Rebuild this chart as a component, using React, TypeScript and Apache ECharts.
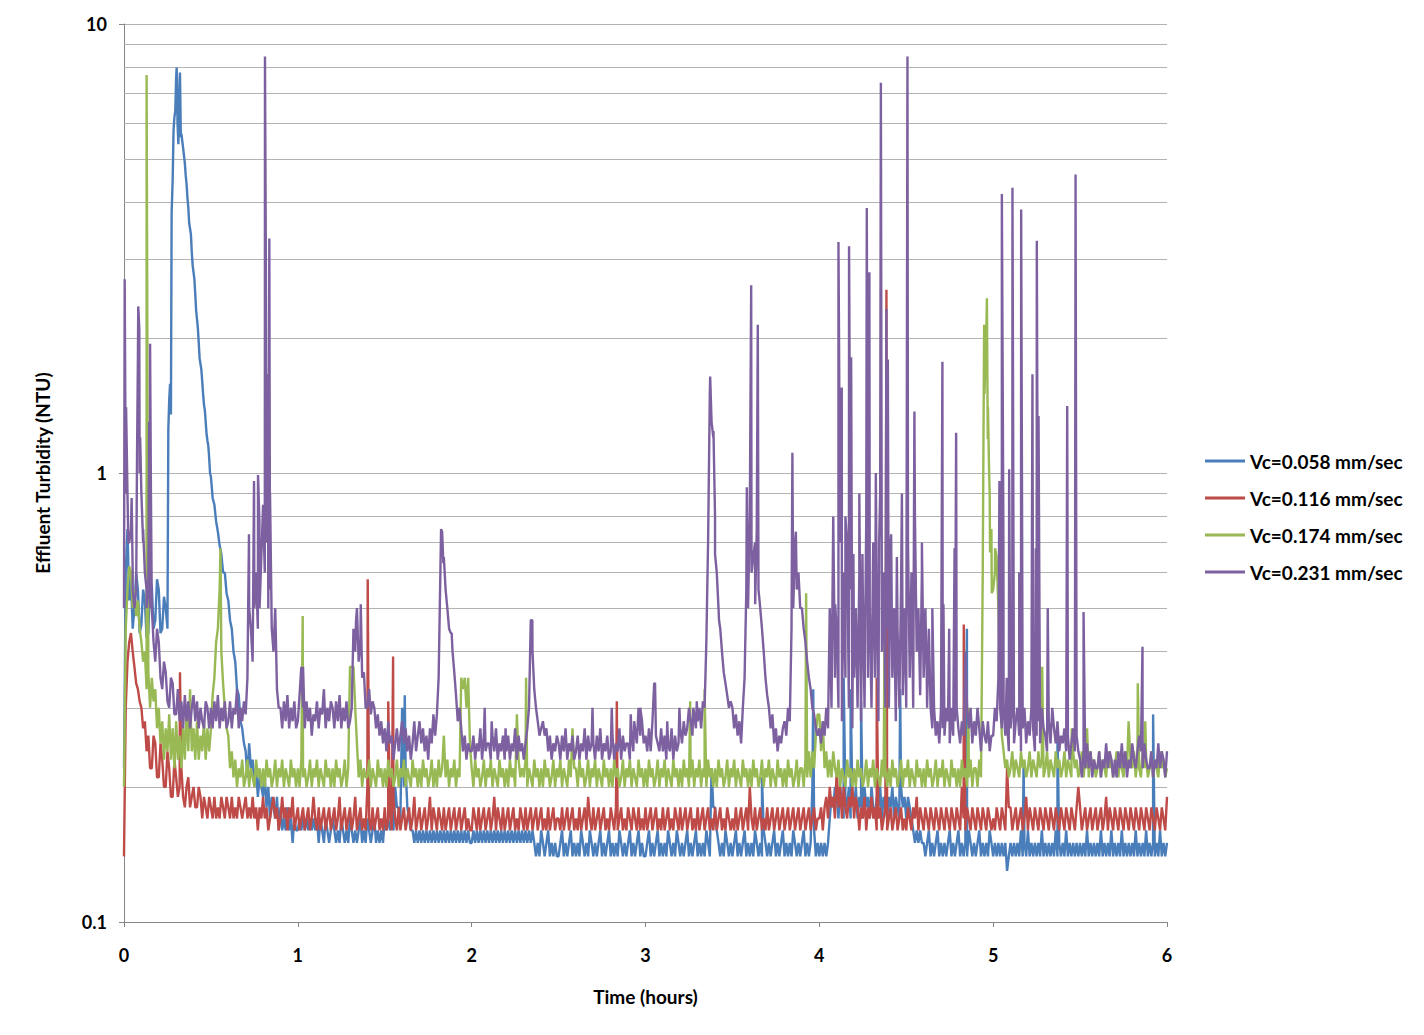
import React, { useEffect, useRef } from "react";
import * as echarts from "echarts";

// ---------- data ----------
const STEP = 0.01; // hours between baseline samples
const ROW_SPAN = 0.5; // each row holds 50 samples = 0.5 h
const X_MAX = 6;

const SERIES_NAMES = ["Vc=0.058 mm/sec", "Vc=0.116 mm/sec", "Vc=0.174 mm/sec", "Vc=0.231 mm/sec"];
const COLORS = ["#4A7EBB", "#BE4B48", "#98B954", "#7D60A0"];
const MINOR_Y = [0.2, 0.3, 0.4, 0.5, 0.6, 0.7, 0.8, 0.9, 2, 3, 4, 5, 6, 7, 8, 9];

// Vc = 0.058 mm/sec
const blueRows = [
  [.22, .6, .75, .52, .58, .45, .5, .6, .55, .44, .46, .55, .52, .43, .44, .57, .56, .45, .47, .58, .55, .44, .45, .53, .5, .45, 1.45, 1.35, 4.5, 6.2, 7.6, 6.0, 7.5, 5.7, 5.3, 4.9, 4.4, 3.9, 3.5, 3.1, 2.8, 2.5, 2.2, 1.95, 1.75, 1.6, 1.42, 1.3, 1.18, 1.08],
  [.98, .88, .85, .78, .74, .69, .66, .6, .6, .54, .52, .47, .45, .4, .38, .33, .32, .28, .27, .25, .24, .21, .25, .22, .23, .2, .22, .19, .21, .2, .19, .21, .18, .2, .17, .19, .18, .17, .19, .16, .18, .16, .17, .16, .18, .16, .17, .15, .17, .16],
  [.16, .17, .16, .17, .16, .17, .16, .17, .16, .17, .16, .17, .15, .17, .16, .15, .17, .16, .15, .16, .17, .16, .15, .16, .15, .17, .16, .15, .16, .15, .17, .16, .15, .16, .15, .16, .17, .15, .16, .15, .17, .16, .15, .16, .17, .15, .16, .15, .16, .15],
  [.17, .16, .17, .16, .17, .16, .2, .18, .18, .17, .3, .2, .22, .18, .17, .16, .16, .15, .16, .15, .16, .15, .16, .15, .16, .15, .16, .15, .16, .15, .16, .15, .16, .15, .16, .15, .16, .15, .16, .15, .16, .15, .16, .15, .16, .15, .16, .15, .16, .15],
  [.15, .16, .15, .16, .15, .16, .15, .16, .15, .16, .15, .16, .15, .16, .15, .16, .15, .16, .15, .16, .15, .16, .15, .16, .15, .16, .15, .16, .15, .16, .15, .16, .15, .16, .15, .16, .15, .14, .15, .14, .16, .15, .14, .15, .16, .14, .15, .14, .15, .14],
  [.14, .15, .16, .14, .15, .14, .15, .16, .14, .15, .14, .15, .14, .16, .15, .14, .15, .14, .16, .15, .14, .15, .14, .15, .16, .14, .15, .14, .15, .16, .14, .15, .14, .15, .14, .16, .15, .14, .15, .14, .15, .16, .14, .15, .14, .15, .16, .14, .15, .14],
  [.14, .15, .16, .14, .15, .14, .15, .16, .14, .15, .14, .15, .14, .16, .15, .14, .15, .14, .16, .15, .14, .15, .14, .15, .16, .14, .15, .14, .15, .16, .14, .15, .14, .15, .14, .16, .15, .14, .22, .18, .18, .16, .15, .14, .15, .14, .16, .15, .14, .15],
  [.14, .15, .16, .14, .15, .14, .15, .16, .14, .15, .14, .15, .14, .16, .15, .14, .15, .14, .16, .15, .14, .15, .14, .15, .16, .14, .15, .14, .15, .16, .14, .15, .14, .15, .14, .16, .15, .14, .15, .14, .15, .16, .14, .15, .14, .15, .2, .16, .14, .15],
  [.14, .15, .14, .15, .14, .15, .17, .19, .18, .2, .19, .17, .2, .18, .17, .19, .18, .2, .17, .19, .18, .2, .17, .19, .18, .17, .2, .18, .19, .17, .2, .18, .17, .19, .18, .2, .17, .19, .18, .17, .19, .18, .2, .17, .19, .18, .17, .2, .18, .19],
  [.17, .19, .18, .17, .16, .15, .16, .15, .16, .15, .15, .14, .15, .16, .14, .15, .14, .15, .16, .14, .15, .14, .15, .14, .15, .16, .14, .15, .14, .15, .16, .14, .15, .14, .15, .14, .16, .15, .14, .15, .14, .15, .16, .14, .15, .14, .15, .14, .16, .15],
  [.14, .15, .14, .15, .14, .15, .14, .15, .13, .14, .15, .14, .15, .14, .15, .14, .16, .14, .15, .14, .16, .14, .15, .14, .15, .14, .15, .14, .16, .14, .15, .14, .15, .14, .15, .14, .16, .14, .15, .14, .15, .14, .16, .14, .15, .14, .15, .14, .15, .14],
  [.15, .14, .15, .14, .16, .14, .15, .14, .15, .14, .15, .14, .16, .14, .15, .14, .15, .14, .16, .14, .15, .14, .15, .14, .16, .14, .15, .14, .15, .14, .15, .14, .16, .14, .15, .14, .15, .14, .16, .14, .15, .14, .15, .14, .15, .14, .16, .14, .15, .14],
];
const blueEnd = 0.15;
const blueExtra = [
  [.255, 1.25], [.265, 1.58], [.274, 3.8], [.285, 5.8], [.295, 6.4], [.303, 8.0], [.308, 6.0], [.313, 5.4],
  [.317, 6.6], [.322, 7.8], [.327, 5.6], [.345, 5.1], [.355, 4.6], [.365, 4.1], [.375, 3.6], [.385, 3.4],
  [.395, 2.9], [.405, 2.7], [.415, 2.3], [.425, 2.1], [.435, 1.8], [.445, 1.7], [.455, 1.5], [.465, 1.38],
  [.475, 1.22], [.485, 1.15], [.495, 1.0],
  [1.615, .32], [3.67, .21], [3.965, .33], [4.14, .35], [4.18, .33], [4.24, .31], [4.465, .33],
  [4.849, .45], [5.175, .226], [5.37, .26], [5.92, .29],
];

// Vc = 0.116 mm/sec
const redRows = [
  [.14, .3, .38, .42, .44, .4, .37, .34, .33, .31, .3, .27, .28, .24, .26, .22, .22, .26, .25, .21, .21, .25, .23, .2, .2, .24, .22, .19, .19, .23, .21, .19, .2, .22, .19, .18, .2, .21, .18, .19, .2, .18, .18, .2, .19, .17, .19, .18, .17, .19],
  [.18, .17, .19, .17, .18, .17, .19, .18, .17, .19, .18, .17, .19, .17, .18, .17, .19, .18, .17, .18, .19, .17, .18, .17, .19, .17, .18, .16, .18, .17, .19, .17, .18, .16, .17, .18, .19, .17, .18, .16, .17, .19, .17, .18, .16, .18, .17, .19, .16, .17],
  [.18, .16, .17, .18, .16, .17, .18, .16, .17, .19, .17, .16, .18, .16, .17, .18, .16, .17, .18, .16, .17, .18, .16, .17, .19, .16, .17, .18, .16, .17, .18, .16, .17, .19, .16, .17, .18, .16, .17, .16, .2, .17, .16, .18, .16, .17, .18, .16, .17, .16],
  [.18, .16, .17, .18, .16, .19, .17, .16, .18, .16, .17, .18, .16, .17, .18, .16, .17, .19, .16, .17, .18, .16, .17, .18, .16, .17, .19, .16, .18, .17, .16, .18, .17, .16, .18, .16, .17, .18, .16, .17, .18, .16, .17, .18, .16, .17, .18, .16, .17, .16],
  [.16, .18, .17, .16, .18, .16, .17, .18, .16, .17, .18, .16, .17, .19, .16, .18, .17, .16, .18, .16, .17, .18, .16, .17, .18, .16, .17, .16, .18, .17, .16, .18, .16, .17, .18, .16, .17, .18, .16, .17, .18, .16, .17, .16, .18, .16, .17, .18, .16, .17],
  [.17, .16, .18, .16, .17, .18, .16, .17, .18, .16, .17, .16, .18, .16, .17, .18, .16, .19, .17, .16, .18, .16, .17, .18, .16, .17, .18, .16, .17, .16, .18, .17, .16, .18, .16, .17, .18, .16, .17, .16, .18, .17, .16, .18, .17, .16, .18, .16, .17, .16],
  [.18, .16, .17, .18, .16, .17, .18, .16, .17, .16, .18, .16, .17, .18, .16, .17, .16, .18, .17, .16, .18, .16, .17, .18, .16, .17, .18, .16, .17, .16, .18, .16, .17, .18, .16, .17, .18, .16, .17, .16, .18, .16, .17, .18, .16, .17, .16, .18, .17, .16],
  [.17, .16, .18, .16, .17, .18, .16, .17, .18, .16, .2, .17, .16, .18, .16, .17, .18, .16, .17, .16, .18, .16, .17, .18, .16, .17, .18, .16, .17, .18, .16, .17, .18, .16, .17, .18, .16, .17, .18, .16, .17, .18, .16, .17, .18, .16, .17, .18, .16, .17],
  [.17, .18, .16, .18, .19, .17, .2, .18, .19, .17, .22, .18, .2, .17, .2, .18, .17, .19, .18, .2, .17, .19, .18, .16, .18, .17, .19, .16, .18, .17, .19, .17, .18, .16, .17, .18, .16, .17, .18, .16, .17, .18, .16, .17, .18, .16, .17, .18, .16, .17],
  [.16, .18, .17, .16, .18, .17, .19, .16, .18, .17, .16, .18, .17, .16, .18, .17, .16, .18, .17, .16, .18, .17, .16, .18, .17, .16, .18, .17, .16, .18, .17, .16, .2, .17, .16, .18, .17, .16, .18, .17, .16, .18, .17, .16, .18, .17, .16, .18, .17, .16],
  [.17, .16, .18, .17, .16, .18, .17, .16, .22, .18, .18, .16, .17, .18, .16, .17, .18, .16, .17, .19, .16, .18, .17, .16, .18, .17, .16, .18, .17, .16, .18, .17, .16, .18, .17, .16, .18, .17, .16, .18, .17, .16, .18, .17, .16, .18, .17, .16, .18, .2],
  [.18, .16, .17, .18, .16, .17, .18, .16, .17, .18, .16, .17, .18, .16, .17, .19, .16, .18, .17, .16, .18, .17, .16, .18, .17, .16, .18, .17, .16, .18, .17, .16, .18, .17, .16, .18, .17, .16, .18, .17, .16, .18, .17, .16, .18, .17, .16, .18, .17, .16],
];
const redEnd = 0.19;
const redExtra = [
  [.322, .36], [1.402, .58], [1.52, .31], [1.548, .39], [2.835, .31], [4.33, .35], [4.386, 2.56], [4.831, .46],
];

// Vc = 0.174 mm/sec
const greenRows = [
  [.2, .45, .55, .62, .6, .5, .55, .48, .52, .45, .42, .38, .4, .33, .36, .3, .35, .31, .33, .27, .3, .25, .28, .23, .27, .24, .29, .23, .27, .22, .28, .23, .26, .22, .27, .23, .3, .24, .33, .24, .27, .23, .28, .23, .26, .24, .28, .23, .27, .24],
  [.27, .32, .35, .42, .45, .55, .4, .34, .3, .27, .26, .22, .24, .21, .23, .2, .22, .21, .23, .2, .21, .23, .2, .22, .21, .2, .23, .21, .22, .2, .22, .2, .23, .21, .22, .2, .21, .23, .2, .22, .21, .23, .2, .22, .21, .2, .23, .21, .22, .2],
  [.22, .2, .23, .21, .22, .2, .21, .23, .2, .22, .21, .23, .2, .22, .21, .2, .23, .21, .22, .2, .22, .2, .23, .21, .22, .2, .21, .23, .2, .22, .37, .37, .37, .3, .25, .21, .23, .2, .22, .21, .21, .23, .2, .22, .21, .2, .23, .21, .22, .2],
  [.22, .2, .23, .21, .22, .2, .21, .23, .2, .22, .21, .23, .2, .22, .21, .2, .23, .21, .22, .2, .22, .2, .23, .21, .22, .2, .21, .23, .2, .22, .2, .23, .21, .22, .26, .21, .23, .2, .22, .21, .23, .2, .22, .21, .35, .33, .35, .3, .35, .25],
  [.22, .2, .23, .21, .22, .2, .21, .23, .2, .22, .21, .23, .2, .22, .21, .2, .23, .21, .22, .2, .22, .2, .23, .21, .22, .2, .29, .23, .21, .22, .21, .23, .2, .22, .21, .2, .23, .21, .22, .2, .22, .2, .23, .21, .22, .2, .21, .23, .2, .22],
  [.21, .23, .2, .22, .21, .2, .23, .21, .27, .22, .22, .2, .23, .21, .22, .2, .21, .23, .2, .22, .21, .23, .2, .22, .21, .2, .23, .21, .22, .2, .22, .2, .23, .21, .22, .2, .21, .23, .2, .22, .21, .23, .2, .22, .21, .2, .23, .21, .22, .2],
  [.22, .2, .23, .21, .22, .2, .21, .23, .2, .22, .21, .23, .2, .22, .21, .2, .23, .21, .22, .2, .22, .2, .23, .21, .22, .2, .21, .23, .2, .22, .21, .23, .2, .22, .21, .2, .23, .21, .22, .2, .22, .2, .23, .21, .22, .2, .21, .23, .2, .22],
  [.21, .23, .2, .22, .21, .2, .23, .21, .22, .2, .22, .2, .23, .21, .22, .2, .21, .23, .2, .22, .21, .23, .2, .22, .21, .2, .23, .21, .22, .2, .22, .2, .23, .21, .22, .2, .21, .23, .2, .22, .22, .2, .23, .21, .24, .21, .24, .22, .26, .29],
  [.29, .24, .28, .22, .24, .21, .23, .21, .24, .22, .21, .23, .2, .22, .21, .2, .23, .21, .22, .2, .22, .2, .23, .21, .22, .2, .21, .23, .2, .22, .21, .23, .2, .22, .21, .2, .23, .21, .22, .2, .22, .2, .23, .21, .22, .2, .21, .23, .2, .22],
  [.21, .23, .2, .22, .21, .2, .23, .21, .22, .2, .22, .2, .23, .21, .22, .2, .21, .23, .2, .22, .21, .23, .2, .22, .21, .2, .23, .21, .22, .2, .22, .2, .23, .21, .22, .2, .21, .23, .2, .22, .22, .2, .23, .21, .6, 1.5, 2.0, 1.4, .9, .75],
  [.55, .6, .65, .5, .33, .26, .24, .22, .23, .21, .22, .24, .21, .23, .22, .21, .24, .22, .23, .21, .22, .24, .21, .23, .22, .21, .24, .22, .23, .21, .22, .24, .21, .23, .22, .21, .24, .22, .23, .21, .22, .24, .21, .23, .22, .21, .24, .22, .23, .21],
  [.22, .24, .21, .23, .22, .21, .24, .22, .23, .21, .22, .24, .21, .23, .22, .21, .24, .22, .23, .21, .22, .24, .21, .23, .22, .21, .24, .22, .28, .23, .22, .24, .21, .23, .22, .21, .24, .22, .23, .21, .22, .24, .21, .23, .22, .21, .24, .22, .23, .21],
];
const greenEnd = 0.22;
const greenExtra = [
  [.13, 7.7], [.555, .68], [1.028, .48], [2.313, .35], [3.257, .31], [3.34, .33], [3.924, .54], [4.375, .45],
  [4.858, .3], [4.948, 2.14], [4.964, 2.45], [4.969, 1.19], [4.977, .99], [4.982, .665], [4.992, .54], [5.011, .68],
  [5.282, .37], [5.452, .27], [5.54, .27], [5.779, .28], [5.832, .34], [5.875, .28],
];

// Vc = 0.231 mm/sec
const purpleRows = [
  [.5, .9, .9, .7, .75, .6, .5, .55, 1.8, 1.0, .9, .7, .6, .55, .55, .5, .5, .42, .38, .45, .42, .35, .33, .38, .36, .31, .3, .35, .34, .29, .29, .33, .28, .31, .27, .32, .28, .31, .27, .3, .32, .28, .31, .27, .3, .28, .27, .31, .3, .27],
  [.3, .27, .31, .28, .32, .27, .3, .28, .31, .27, .28, .31, .27, .3, .29, .33, .27, .3, .28, .31, .29, .35, .5, .45, .38, .5, .6, .45, .5, .65, .85, .6, .7, .5, .55, .45, .4, .5, .33, .3, .3, .27, .31, .28, .32, .27, .3, .28, .31, .27],
  [.28, .32, .37, .3, .27, .31, .28, .3, .26, .29, .28, .31, .27, .3, .29, .33, .27, .3, .28, .31, .3, .27, .31, .28, .32, .27, .3, .28, .31, .27, .28, .3, .45, .4, .5, .38, .42, .35, .36, .3, .3, .33, .29, .31, .3, .27, .29, .26, .28, .25],
  [.27, .24, .28, .25, .26, .23, .25, .27, .24, .26, .28, .25, .27, .24, .26, .23, .25, .28, .24, .26, .28, .25, .27, .24, .26, .23, .27, .25, .29, .26, .29, .35, .6, .74, .65, .55, .5, .45, .44, .4, .36, .32, .28, .3, .27, .24, .26, .23, .25, .24],
  [.24, .26, .23, .25, .24, .27, .23, .26, .24, .25, .25, .23, .26, .24, .27, .23, .25, .24, .26, .23, .24, .26, .23, .25, .24, .27, .23, .26, .24, .25, .23, .25, .27, .3, .47, .4, .33, .3, .28, .26, .27, .28, .26, .27, .24, .26, .23, .25, .24, .26],
  [.25, .23, .26, .24, .27, .23, .25, .24, .26, .23, .24, .26, .23, .25, .24, .27, .23, .26, .24, .25, .25, .23, .26, .24, .27, .23, .25, .24, .26, .23, .24, .26, .23, .25, .24, .27, .23, .26, .24, .25, .25, .23, .26, .24, .27, .25, .3, .26, .28, .25],
  [.26, .24, .27, .24, .28, .34, .26, .25, .24, .27, .24, .26, .23, .25, .24, .27, .23, .26, .24, .25, .27, .25, .28, .26, .27, .3, .28, .26, .29, .27, .28, .3, .27, .31, .3, .42, .7, 1.5, 1.3, 1.2, .8, .6, .5, .45, .4, .36, .34, .32, .3, .31],
  [.3, .27, .29, .26, .28, .25, .3, .35, .55, .5, .8, .6, .65, .7, .75, .55, .5, .45, .4, .35, .32, .3, .27, .29, .25, .27, .24, .26, .25, .27, .28, .26, .3, .28, .45, .5, .7, .55, .6, .5, .5, .45, .42, .38, .35, .33, .3, .29, .27, .26],
  [.27, .25, .28, .26, .3, .27, .5, .3, .8, .35, .45, .3, .7, .28, .6, .35, .7, .3, .55, .27, .35, .5, .3, .6, .28, .55, .3, .8, .35, .5, .3, .7, .35, .55, .28, .9, .4, .6, .3, .45, .3, .7, .35, .5, .28, .45, .3, .55, .32, .5],
  [.3, .7, .35, .6, .3, .8, .4, .5, .32, .6, .35, .5, .3, .45, .3, .27, .3, .26, .28, .25, .3, .27, .26, .3, .28, .25, .3, .26, .28, .3, .27, .25, .28, .26, .4, .3, .27, .3, .25, .28, .26, .3, .27, .24, .28, .26, .25, .28, .24, .26],
  [.26, .3, .28, .35, .3, .27, .3, .26, .28, .24, .27, .3, .25, .28, .3, .26, .24, .27, .3, .25, .28, .26, .3, .27, .24, .26, .28, .25, .3, .27, .26, .24, .28, .25, .3, .27, .25, .28, .24, .26, .25, .27, .24, .26, .23, .25, .27, .24, .26, .24],
  [.23, .21, .24, .22, .25, .22, .24, .21, .23, .22, .22, .24, .21, .23, .22, .25, .22, .24, .23, .21, .23, .21, .24, .22, .25, .22, .24, .21, .23, .22, .25, .23, .22, .24, .26, .24, .22, .25, .23, .22, .22, .24, .21, .23, .22, .25, .22, .24, .23, .21],
];
const purpleEnd = 0.24;
const purpleExtra = [
  [.004, 2.7], [.012, 1.4], [.025, .7], [.044, .88], [.05, .55], [.075, 1.1], [.082, 2.35], [.088, 2.1],
  [.093, 1.2], [.11, .75], [.13, .5], [.145, 1.3], [.15, 1.94], [.155, .9],
  [.719, .73], [.748, .96], [.771, .99], [.779, .78], [.811, 8.47], [.816, 3.0], [.821, 1.66], [.829, 1.2],
  [.836, 3.33], [.84, .9],
  [1.03, .37], [1.335, .47], [1.362, .51], [1.824, .75], [1.837, .63], [1.885, .44],
  [2.075, .3], [2.115, .28], [2.195, .27], [2.349, .47], [2.695, .3], [2.806, .3], [2.915, .29], [2.935, .28],
  [2.97, .3], [3.055, .34], [3.125, .28], [3.195, .3], [3.275, .3], [3.295, .31],
  [3.372, 1.64], [3.391, 1.24], [3.40, .66], [3.423, .47],
  [3.583, .93], [3.608, 2.62], [3.631, .51], [3.646, 2.14], [3.845, 1.11], [3.865, .74],
  [4.091, .51], [4.11, 3.27], [4.129, 1.55], [4.15, .8], [4.171, 3.2], [4.183, 1.81], [4.196, .66], [4.23, .9],
  [4.248, .66], [4.273, 3.89], [4.288, 2.8], [4.308, .6], [4.325, 1.0], [4.344, .7], [4.354, 7.4], [4.386, 2.32],
  [4.394, 1.79], [4.413, .73], [4.446, .65], [4.475, .9], [4.507, 8.47], [4.547, 1.37], [4.561, .41], [4.59, .7],
  [4.618, .35], [4.65, .5],
  [4.708, 1.77], [4.714, .51], [4.747, .45], [4.778, .68], [4.787, 1.23],
  [5.036, .96], [5.05, 4.18], [5.059, .69], [5.078, .35], [5.092, 1.02], [5.111, 4.32], [5.15, .6], [5.161, 3.86],
  [5.226, 1.66], [5.245, .68], [5.251, 3.29], [5.261, 1.34], [5.314, .5], [5.426, 1.41], [5.474, 4.62],
  [5.52, .49], [5.859, .41],
];

// ---------- helpers ----------
function buildPoints(rows: number[][], end: number, extra: number[][]) {
  const pts: number[][] = [];
  rows.forEach((row, r) =>
    row.forEach((v, k) => pts.push([Math.round((r * ROW_SPAN + k * STEP) * 1000) / 1000, v]))
  );
  pts.push([X_MAX, end]);
  extra.forEach((p) => pts.push([p[0], p[1]]));
  pts.sort((a, b) => a[0] - b[0]);
  return pts;
}

const FONT = "Lato, 'DejaVu Sans', sans-serif";

export default function App() {
  const ref = useRef<HTMLDivElement>(null);

  useEffect(() => {
    if (!ref.current) return;
    const chart = echarts.init(ref.current, undefined, { renderer: "svg" });
    const datasets = [
      buildPoints(blueRows, blueEnd, blueExtra),
      buildPoints(redRows, redEnd, redExtra),
      buildPoints(greenRows, greenEnd, greenExtra),
      buildPoints(purpleRows, purpleEnd, purpleExtra),
    ];
    const axisColor = "#868686";
    const gridColor = "#B3B3B3";
    chart.setOption({
      animation: false,
      textStyle: { fontFamily: FONT },
      grid: { left: 124, right: 257, top: 24, bottom: 113, containLabel: false },
      legend: {
        orient: "vertical",
        left: 1205,
        top: 451,
        padding: 0,
        itemWidth: 40,
        itemHeight: 3,
        itemGap: 17,
        icon: "rect",
        data: SERIES_NAMES,
        textStyle: { fontSize: 19, fontWeight: "bold", color: "#000", fontFamily: FONT, lineHeight: 20 },
      },
      xAxis: {
        type: "value",
        min: 0,
        max: X_MAX,
        interval: 1,
        name: "Time (hours)",
        nameLocation: "middle",
        nameGap: 65,
        nameTextStyle: { fontSize: 19, fontWeight: "bold", color: "#000", fontFamily: FONT },
        axisLine: { show: true, lineStyle: { color: axisColor, width: 1 } },
        axisTick: { show: true, length: 5, lineStyle: { color: axisColor } },
        axisLabel: { margin: 24, fontSize: 18, fontWeight: "bold", color: "#000", fontFamily: FONT },
        splitLine: { show: false },
      },
      yAxis: {
        type: "log",
        logBase: 10,
        min: 0.1,
        max: 10,
        name: "Effluent Turbidity (NTU)",
        nameLocation: "middle",
        nameGap: 72,
        nameRotate: 90,
        nameTextStyle: { fontSize: 19, fontWeight: "bold", color: "#000", fontFamily: FONT },
        axisLine: { show: true, lineStyle: { color: axisColor, width: 1 } },
        axisTick: { show: true, length: 5, lineStyle: { color: axisColor } },
        axisLabel: {
          margin: 17,
          fontSize: 18,
          fontWeight: "bold",
          color: "#000",
          fontFamily: FONT,
          formatter: (v: number) => String(v),
        },
        splitLine: { show: true, lineStyle: { color: gridColor, width: 1 } },
      },
      series: SERIES_NAMES.map((name, i) => ({
        name,
        type: "line",
        data: datasets[i],
        symbol: "none",
        showSymbol: false,
        lineStyle: { color: COLORS[i], width: 2.4 },
        itemStyle: { color: COLORS[i] },
        emphasis: { disabled: true },
        markLine:
          i === 0
            ? {
                silent: true,
                z: 1,
                symbol: ["none", "none"],
                label: { show: false },
                emphasis: { disabled: true },
                lineStyle: { color: gridColor, type: "solid", width: 1 },
                data: MINOR_Y.map((v) => ({ yAxis: v })),
              }
            : undefined,
      })),
    });
    return () => chart.dispose();
  }, []);

  return (
    <div
      ref={ref}
      style={{ position: "fixed", left: 0, top: 0, width: 1424, height: 1035, background: "#fff" }}
    />
  );
}
